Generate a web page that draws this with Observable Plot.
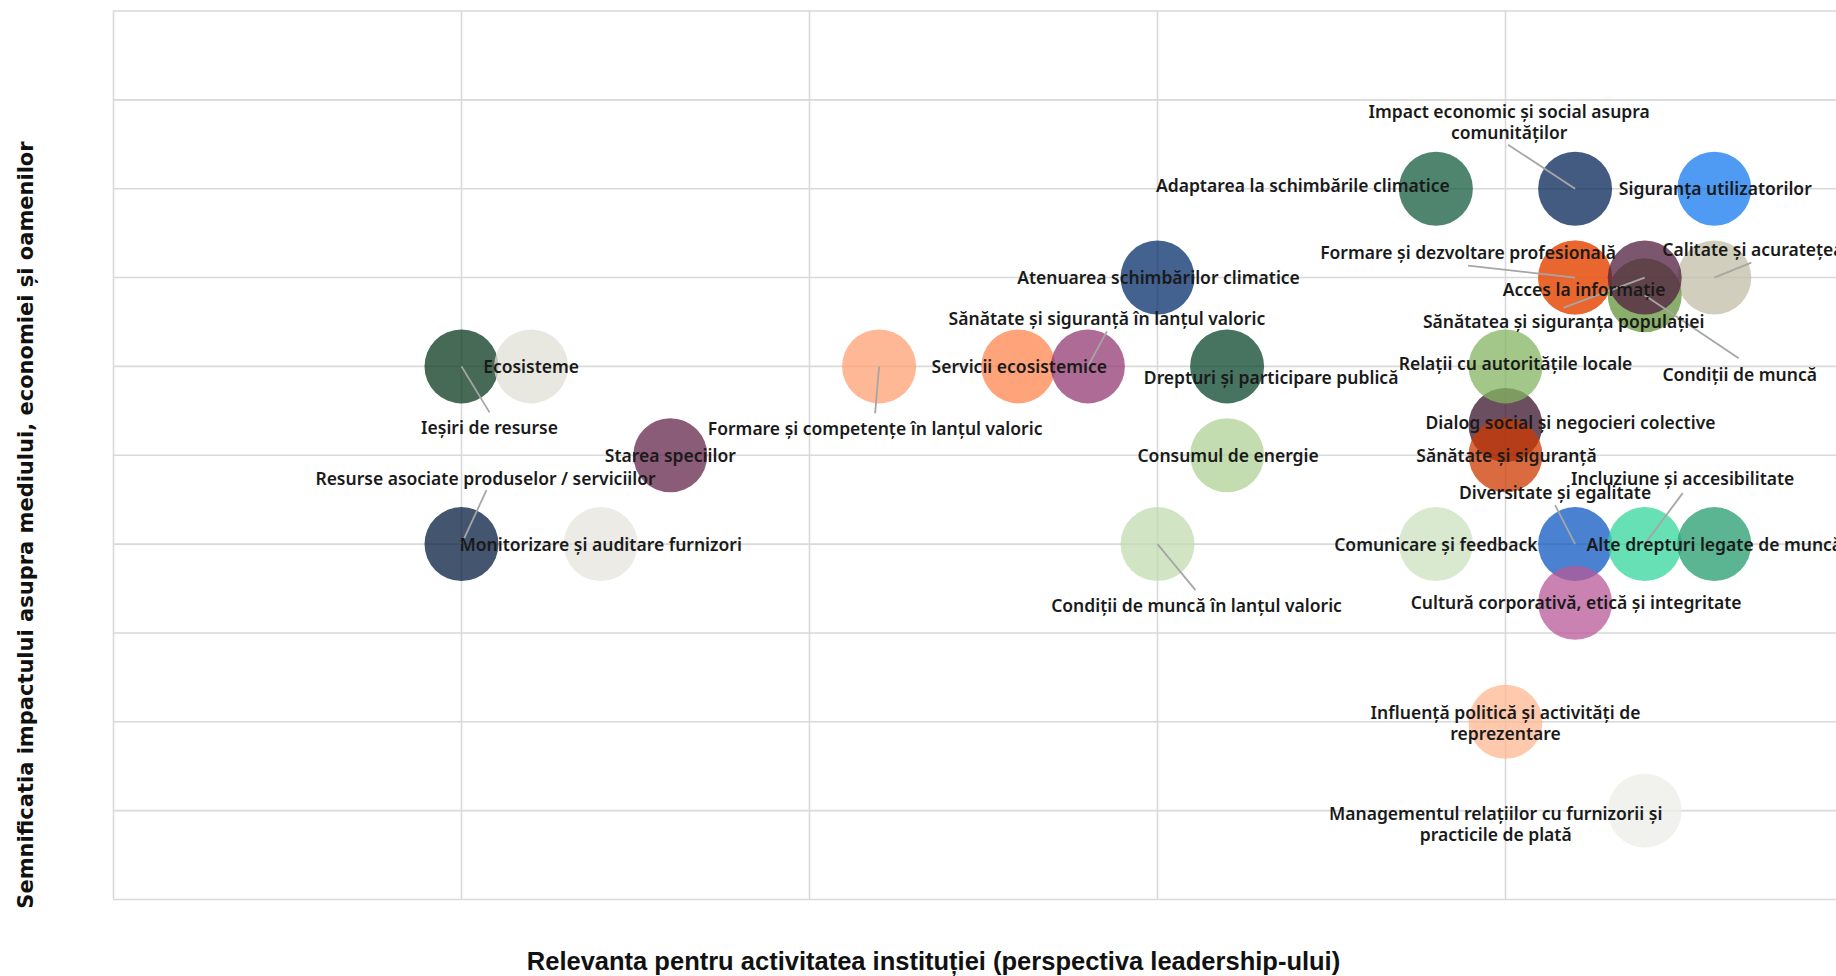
<!DOCTYPE html>
<html>
<head>
<meta charset="utf-8">
<script src="https://cdn.jsdelivr.net/npm/d3@7"></script>
<script src="https://cdn.jsdelivr.net/npm/@observablehq/plot@0.6"></script>
<style>
  html, body { margin: 0; padding: 0; background: #fff; overflow: hidden; }
  #chart { width: 1870px; }
  #chart svg { max-width: none !important; }
</style>
</head>
<body>
<div id="chart"></div>
<script>
// ---------- DATA ----------
const names = [
  "Ieșiri de resurse",
  "Ecosisteme",
  "Resurse asociate produselor / serviciilor",
  "Monitorizare și auditare furnizori",
  "Starea speciilor",
  "Formare și competențe în lanțul valoric",
  "Servicii ecosistemice",
  "Sănătate și siguranță în lanțul valoric",
  "Atenuarea schimbărilor climatice",
  "Drepturi și participare publică",
  "Consumul de energie",
  "Condiții de muncă în lanțul valoric",
  "Adaptarea la schimbările climatice",
  "Impact economic și social asupra\ncomunităților",
  "Siguranța utilizatorilor",
  "Acces la informație",
  "Formare și dezvoltare profesională",
  "Calitate și acuratețea informațiilor",
  "Condiții de muncă",
  "Sănătatea și siguranța populației",
  "Dialog social și negocieri colective",
  "Relații cu autoritățile locale",
  "Sănătate și siguranță",
  "Comunicare și feedback",
  "Diversitate și egalitate",
  "Incluziune și accesibilitate",
  "Alte drepturi legate de muncă",
  "Cultură corporativă, etică și integritate",
  "Influență politică și activități de\nreprezentare",
  "Managementul relațiilor cu furnizorii și\npracticile de plată"
];
// Relevanta pentru activitatea instituției
const relevance = [1.0, 1.2, 1.0, 1.4, 1.6, 2.2, 2.6, 2.8, 3.0, 3.2, 3.2, 3.0, 3.8, 4.2, 4.6,
                   4.2, 4.2, 4.6, 4.4, 4.4, 4.0, 4.0, 4.0, 3.8, 4.2, 4.4, 4.6, 4.2, 4.0, 4.4];
// Semnificatia impactului
const significance = [3.0, 3.0, 2.0, 2.0, 2.5, 3.0, 3.0, 3.0, 3.5, 3.0, 2.5, 2.0, 4.0, 4.0, 4.0,
                      3.5, 3.5, 3.5, 3.4, 3.5, 2.67, 3.0, 2.5, 2.0, 2.0, 2.0, 2.0, 1.67, 1.0, 0.5];
// colour of each bubble as it looks alone on white
const colors = [
  "#476a57", "#e8e8e1", "#44556f", "#ecebe5", "#8b5c77", "#ffb896", "#ffa47a", "#ad6b96",
  "#436290", "#477460", "#c4ddb0", "#d1e5c5", "#4f846e", "#445b81", "#4f9bf3",
  "#ed8558", "#ed8558", "#d1cebd", "#8aae6c", "#7c566f", "#6b4f60", "#a3c788", "#da6a3b",
  "#d9e9cf", "#4a81d0", "#67e0b6", "#5bb593", "#c982b1", "#ffc9ad", "#f1f1ed"
];
const xTicks = [0, 1, 2, 3, 4, 5];
const yTicks = [0, 0.5, 1, 1.5, 2, 2.5, 3, 3.5, 4, 4.5, 5];
const xTitle = "Relevanta pentru activitatea instituției (perspectiva leadership-ului)";
const yTitle = "Semnificatia impactului asupra mediului, economiei și oamenilor";

// ---------- LABEL LAYOUT (pixel offsets from bubble centre) ----------
// [label dx, label dy, leader end dx, leader end dy, anchor]
const labelLayout = [
  [28, 61, 28, 46], [0, 0], [24, -66, 25, -54], [0, 0], [0, 0],
  [-4, 62, -4, 47], [1, 0], [19, -48, 19, -35], [1, 0], [44, 11],
  [1, 0], [39, 61, 38, 46], [-133, -3], [-66, -67, -67, -44], [1, 0],
  [9, 12], [-107, -25, -107, -12], [-52, -28, 37, -15, "start"], [95, 79, 94, 63], [-81, 44, -81, 30],
  [65, -3], [10, -3], [1, 0], [0, 0], [-20, -52, -20, -39],
  [38, -66, 38, -51], [0, 0], [1, 0], [0, 1], [-149, 13]
];

// ---------- CHART ----------
const W = 1870, H = 976, mL = 113, mR = 17, mT = 10.5, mB = 77;
const kx = (W - mL - mR) / 5, ky = (H - mT - mB) / 5;
const alpha = 0.75;
const base = c => {
  const k = d3.rgb(c);
  const f = v => Math.max(0, Math.min(255, (v - 255 * (1 - alpha)) / alpha));
  return d3.rgb(f(k.r), f(k.g), f(k.b)).formatHex();
};

const data = names.map((name, i) => ({name, x: relevance[i], y: significance[i], fill: base(colors[i])}));
const leaders = data.map((d, i) => ({d, l: labelLayout[i]})).filter(o => o.l.length > 2)
  .map(({d, l}) => ({x1: d.x, y1: d.y, x2: d.x + l[2] / kx, y2: d.y - l[3] / ky}));

const labelFont = {fontFamily: "'Noto Sans', sans-serif", fontSize: 17.5, fontWeight: 600, fill: "#1a1a1a", lineHeight: 1.2};
const labelMarks = data.map((d, i) => {
  const l = labelLayout[i];
  return Plot.text([d], {x: "x", y: "y", text: "name", dx: l[0], dy: l[1], textAnchor: l[4] || "middle", ...labelFont});
});

const chart = Plot.plot({
  width: W, height: H,
  marginLeft: mL, marginRight: mR, marginTop: mT, marginBottom: mB,
  x: {domain: [0, 5], axis: null},
  y: {domain: [0, 5], axis: null},
  style: {background: "#fff"},
  marks: [
    Plot.ruleX(xTicks, {stroke: "#d9d9d9", strokeWidth: 1.6}),
    Plot.ruleY(yTicks, {stroke: "#d9d9d9", strokeWidth: 1.6}),
    Plot.dot(data, {x: "x", y: "y", r: 37, fill: "fill", fillOpacity: alpha, stroke: null}),
    Plot.link(leaders, {x1: "x1", y1: "y1", x2: "x2", y2: "y2", stroke: "#a6a6a6", strokeWidth: 1.8}),
    ...labelMarks,
    Plot.text([xTitle], {frameAnchor: "bottom-left", dx: 820, dy: 70, textAnchor: "middle",
      fontFamily: "'Liberation Sans Narrow', 'Liberation Sans', sans-serif", fontWeight: "bold", fontSize: 25.5, fill: "#111"}),
    Plot.text([yTitle], {frameAnchor: "top-left", dx: -95, dy: 514, rotate: -90, textAnchor: "middle",
      fontFamily: "'DejaVu Sans', sans-serif", fontWeight: "bold", fontSize: 21, fill: "#111"})
  ]
});
document.getElementById("chart").appendChild(chart);
</script>
</body>
</html>
